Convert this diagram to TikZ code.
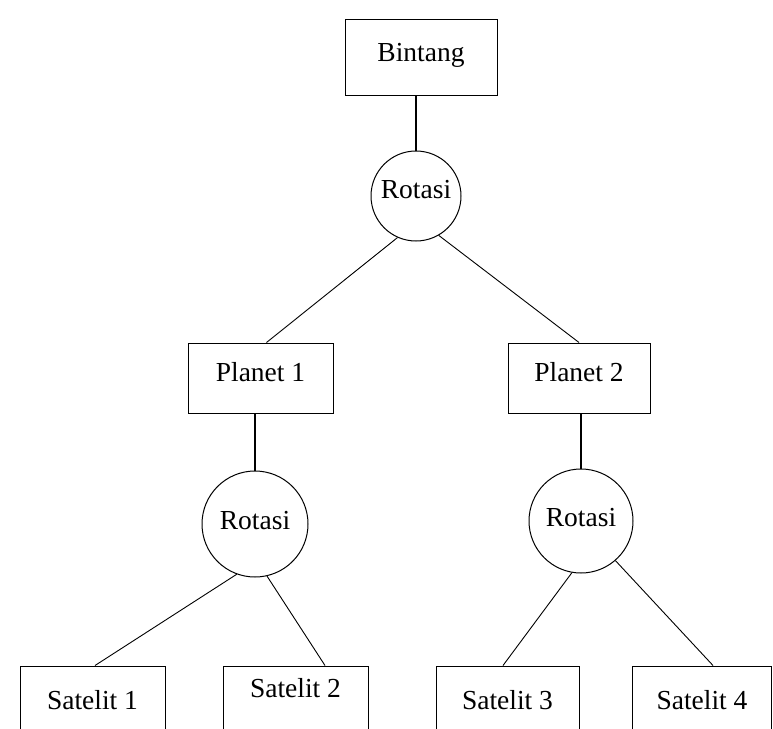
\documentclass[tikz,border=0pt]{standalone}
\usepackage{fontspec}
\setmainfont{Liberation Serif}
\begin{document}
\begin{tikzpicture}[x=1pt,y=-1pt,
  box/.style={draw, line width=1pt, inner sep=0pt, font=\fontsize{27.5}{31}\selectfont},
  orb/.style={draw, circle, line width=1pt, inner sep=0pt, font=\fontsize{27.5}{31}\selectfont},
  link/.style={line width=0.9pt},
  stem/.style={line width=1.6pt}]
\useasboundingbox (0,0) rectangle (773,728);
\clip (0,0) rectangle (773,728);

% star, its rotation and the two planets
\node[box, minimum width=152pt, minimum height=76pt, text depth=10pt] (bintang) at (421,57) {Bintang};
\node[orb, minimum size=90pt, text depth=14pt] (rot0) at (416,196) {Rotasi};
\node[box, minimum width=145pt, minimum height=70pt, text depth=12pt] (planet1) at (260.5,378) {Planet 1\hspace{8pt}};
\node[box, minimum width=142pt, minimum height=70pt, text depth=12pt] (planet2) at (579,378) {Planet 2\hspace{10pt}};

% rotations of the planets
\node[orb, minimum size=106pt, text depth=8pt] (rot1) at (255,524) {Rotasi};
\node[orb, minimum size=104pt, text depth=8pt] (rot2) at (581,521) {Rotasi};

% satellites (boxes run past the lower edge)
\node[box, minimum width=145pt, minimum height=68pt] (sat1) at (92.5,700) {Satelit 1};
\node[box, minimum width=145pt, minimum height=68pt, text depth=24pt] (sat2) at (295.5,700) {Satelit 2};
\node[box, minimum width=143pt, minimum height=68pt] (sat3) at (507.5,700) {Satelit 3\hspace{12pt}};
\node[box, minimum width=139pt, minimum height=68pt] (sat4) at (702,700) {Satelit 4};

% connectors
\draw[stem] (rot0.north) -- (rot0.north |- bintang.south);
\draw[link] (rot0.246) -- ([xshift=6pt]planet1.north);
\draw[link] (rot0.300) -- (planet2.north);
\draw[stem] (rot1.north) -- (rot1.north |- planet1.south);
\draw[stem] (rot2.north) -- (rot2.north |- planet2.south);
\draw[link] (rot1.250) -- ([xshift=2.5pt]sat1.north);
\draw[link] (rot1.283) -- ([xshift=29.5pt]sat2.north);
\draw[link] (rot2.260) -- ([xshift=-4.5pt]sat3.north);
\draw[link] (rot2.311) -- ([xshift=11pt]sat4.north);
\end{tikzpicture}
\end{document}
